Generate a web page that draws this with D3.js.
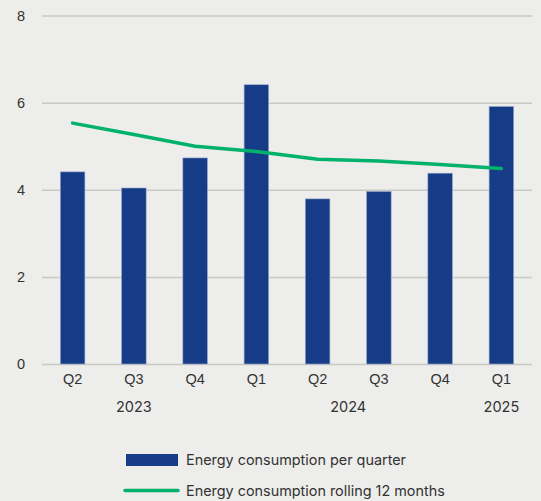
<!DOCTYPE html>
<html>
<head>
<meta charset="utf-8">
<script src="https://cdn.jsdelivr.net/npm/d3@7/dist/d3.min.js"></script>
<style>
  html, body { margin: 0; padding: 0; background: #ededeb; }
  svg { display: block; font-family: Inter, "Open Sans", sans-serif; }
</style>
</head>
<body>
<svg id="chart" width="541" height="501"></svg>
<script>
// Quarterly energy consumption with rolling 12-month figure
const quarters = ["Q2", "Q3", "Q4", "Q1", "Q2", "Q3", "Q4", "Q1"];
const years = ["2023", "2023", "2023", "2024", "2024", "2024", "2024", "2025"];
const perQuarter = [4.41, 4.04, 4.73, 6.41, 3.79, 3.96, 4.38, 5.91];
const rolling12 = [5.53, 5.27, 5.00, 4.88, 4.70, 4.66, 4.58, 4.49];
const yTicks = [0, 2, 4, 6, 8];
const legendLabels = ["Energy consumption per quarter", "Energy consumption rolling 12 months"];

const colors = { bar: "#173c87", line: "#00b26a", grid: "#c9c9c3", text: "#333333" };

const svg = d3.select("#chart");
const margin = { left: 42, right: 9, top: 15.5, bottom: 137 };
const W = 541, H = 501;

const ids = quarters.map((q, i) => i);
const x = d3.scaleBand().domain(ids).range([margin.left, W - margin.right])
  .paddingInner(0.6).paddingOuter(0.3);
const y = d3.scaleLinear().domain([0, 8]).range([H - margin.bottom, margin.top]);

// horizontal gridlines and value labels
const yAxis = d3.axisLeft(y).tickValues(yTicks).tickSize(-(W - margin.right - margin.left)).tickPadding(17);
const gy = svg.append("g").attr("transform", `translate(${margin.left},0)`).call(yAxis);
gy.select(".domain").remove();
gy.selectAll(".tick line").attr("stroke", colors.grid).attr("stroke-width", 1.5);
gy.selectAll(".tick text").attr("fill", colors.text).attr("font-size", 14.5);

// bars
svg.append("g").selectAll("rect").data(perQuarter).join("rect")
  .attr("x", (d, i) => x(i))
  .attr("y", d => y(d))
  .attr("width", x.bandwidth())
  .attr("height", d => y(0) - y(d))
  .attr("fill", colors.bar)
  .attr("stroke", "#8fa3c8")
  .attr("stroke-width", 0.6);

// rolling line
const line = d3.line().x((d, i) => x(i) + x.bandwidth() / 2).y(d => y(d));
svg.append("path").datum(rolling12)
  .attr("d", line)
  .attr("fill", "none")
  .attr("stroke", colors.line)
  .attr("stroke-width", 3.5)
  .attr("stroke-linecap", "round")
  .attr("stroke-linejoin", "round");

// quarter labels
const xAxis = d3.axisBottom(x).tickFormat(i => quarters[i]).tickSize(0).tickPadding(10);
const gx = svg.append("g").attr("transform", `translate(0,${y(0)})`).call(xAxis);
gx.select(".domain").remove();
gx.selectAll(".tick text").attr("fill", colors.text).attr("font-size", 14.5);

// year labels centred under their quarters
const yearGroups = d3.groups(ids, i => years[i]);
svg.append("g").selectAll("text").data(yearGroups).join("text")
  .attr("x", ([, idx]) => (x(idx[0]) + x(idx[idx.length - 1]) + x.bandwidth()) / 2)
  .attr("y", 412)
  .attr("text-anchor", "middle")
  .attr("fill", colors.text)
  .attr("font-size", 14.5)
  .text(([yr]) => yr);

// legend
const lg = svg.append("g");
lg.append("rect").attr("x", 126).attr("y", 454).attr("width", 52).attr("height", 12).attr("fill", colors.bar);
lg.append("line").attr("x1", 125).attr("x2", 178).attr("y1", 490.5).attr("y2", 490.5)
  .attr("stroke", colors.line).attr("stroke-width", 3.5).attr("stroke-linecap", "round");
lg.selectAll("text").data(legendLabels).join("text")
  .attr("x", 186)
  .attr("y", (d, i) => 464.5 + i * 31)
  .attr("fill", colors.text)
  .attr("font-size", 14.4)
  .text(d => d);
</script>
</body>
</html>
